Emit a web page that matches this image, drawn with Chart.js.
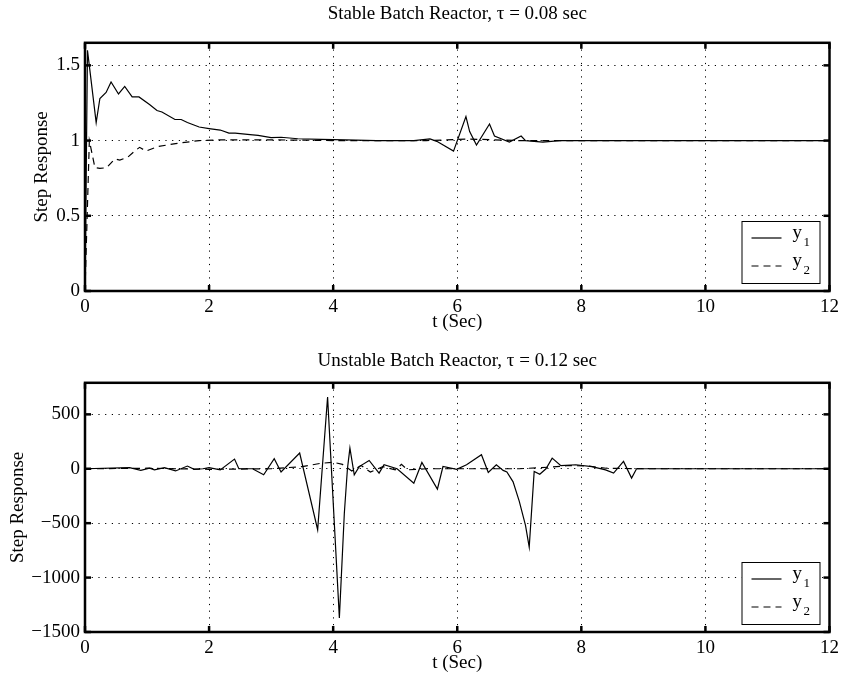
<!DOCTYPE html>
<html>
<head>
<meta charset="utf-8">
<script src="https://cdn.jsdelivr.net/npm/chart.js@4/dist/chart.umd.min.js"></script>
<style>
  body { margin: 0; background: #fff; }
  .box { position: absolute; left: 0; width: 844px; }
</style>
</head>
<body>
<div class="box" style="top:0;height:338px"><canvas id="topChart"></canvas></div>
<div class="box" style="top:338px;height:339px"><canvas id="botChart"></canvas></div>
<script>
const xTicks = [0, 2, 4, 6, 8, 10, 12];

// stable reactor, tau = 0.08 sec
const topYTicks = [0, 0.5, 1, 1.5];
const topT1 = [0, 0.04, 0.18, 0.24, 0.34, 0.42, 0.54, 0.64, 0.76, 0.87, 1.04, 1.16, 1.24, 1.45, 1.55, 1.65, 1.84, 2.0, 2.18, 2.32, 2.42, 2.66, 2.79, 3.0, 3.16, 3.43, 3.8, 4.2, 4.7, 5.3, 5.56, 5.67, 5.94, 6.14, 6.2, 6.31, 6.52, 6.6, 6.84, 7.03, 7.1, 7.38, 7.65, 12];
const topY1 = [0, 1.6, 1.12, 1.28, 1.32, 1.39, 1.31, 1.36, 1.29, 1.29, 1.24, 1.2, 1.19, 1.14, 1.14, 1.12, 1.09, 1.08, 1.07, 1.05, 1.05, 1.04, 1.035, 1.02, 1.022, 1.012, 1.008, 1.004, 1.0, 1.0, 1.011, 0.995, 0.93, 1.16, 1.06, 0.97, 1.11, 1.03, 0.99, 1.03, 1.0, 0.99, 1.0, 1.0];
const topT2 = [0, 0.07, 0.16, 0.24, 0.35, 0.48, 0.56, 0.69, 0.8, 0.88, 0.985, 1.17, 1.46, 1.84, 2.2, 2.8, 3.5, 4.0, 4.5, 5.5, 6.2, 6.6, 7.0, 12];
const topY2 = [0, 1.0, 0.82, 0.815, 0.82, 0.878, 0.87, 0.89, 0.93, 0.955, 0.93, 0.96, 0.98, 1.0, 1.005, 1.005, 1.003, 1.0, 1.0, 1.0, 1.01, 1.005, 1.0, 1.0];

// unstable reactor, tau = 0.12 sec
const botYTicks = [-1500, -1000, -500, 0, 500];
const botT1 = [0, 0.72, 0.9, 1.04, 1.12, 1.28, 1.46, 1.65, 1.76, 1.9, 2.0, 2.18, 2.41, 2.48, 2.7, 2.88, 3.05, 3.16, 3.46, 3.75, 3.91, 4.1, 4.18, 4.23, 4.27, 4.34, 4.42, 4.58, 4.74, 4.82, 5.03, 5.3, 5.43, 5.68, 5.77, 5.99, 6.15, 6.39, 6.5, 6.63, 6.74, 6.8, 6.9, 7.0, 7.1, 7.16, 7.24, 7.33, 7.43, 7.53, 7.67, 7.91, 8.17, 8.39, 8.52, 8.68, 8.81, 8.89, 12];
const botY1 = [0, 10, -15, 5, -10, 10, -20, 25, -5, 0, 10, -10, 89, 0, 0, -55, 92, -30, 145, -560, 660, -1370, -408, 0, 190, -55, 20, 76, -40, 37, 0, -132, 58, -187, 21, -5, 37, 129, -34, 37, -15, -30, -120, -300, -520, -720, -25, -50, 0, 98, 28, 37, 20, -10, -40, 68, -86, 0, 0];
const botT2 = [0, 1, 2, 3, 3.5, 3.8, 4.0, 4.15, 4.3, 4.45, 4.6, 4.8, 5.0, 5.1, 5.2, 5.5, 6, 7, 7.5, 7.8, 8.1, 8.4, 9, 12];
const botY2 = [0, 5, -5, 0, 20, 50, 60, 40, -20, 30, -30, 20, -10, 40, -10, 0, 0, 0, 15, 30, 25, 5, 0, 0];

const serif = "'Liberation Serif', 'DejaVu Serif', serif";

function pts(ts, ys) {
  return ts.map((t, i) => ({ x: t, y: ys[i] }));
}

function line(ctx, x1, y1, x2, y2) {
  ctx.beginPath();
  ctx.moveTo(x1, y1);
  ctx.lineTo(x2, y2);
  ctx.stroke();
}

// box round the plot, inward ticks and the legend in the lower right
const frame = {
  id: 'frame',
  afterDatasetsDraw(chart) {
    const { ctx, chartArea: a, scales: { x, y } } = chart;
    ctx.save();
    ctx.strokeStyle = '#000';
    ctx.setLineDash([]);
    ctx.lineWidth = 2.5;
    ctx.strokeRect(a.left, a.top, a.right - a.left, a.bottom - a.top);
    x.ticks.forEach(t => {
      const px = x.getPixelForValue(t.value);
      line(ctx, px, a.bottom, px, a.bottom - 6);
      line(ctx, px, a.top, px, a.top + 6);
    });
    y.ticks.forEach(t => {
      const py = y.getPixelForValue(t.value);
      line(ctx, a.left, py, a.left + 6, py);
      line(ctx, a.right, py, a.right - 6, py);
    });

    // legend
    const lx = a.right - 88, ly = a.bottom - 70;
    ctx.fillStyle = '#fff';
    ctx.fillRect(lx, ly, 78, 62);
    ctx.lineWidth = 1;
    ctx.strokeRect(lx + 0.5, ly + 0.5, 78, 62);
    chart.data.datasets.forEach((ds, i) => {
      const yy = ly + 17 + i * 28;
      ctx.setLineDash(ds.borderDash || []);
      ctx.lineWidth = 1.2;
      line(ctx, lx + 10, yy, lx + 40, yy);
      ctx.setLineDash([]);
      ctx.fillStyle = '#000';
      ctx.textBaseline = 'middle';
      ctx.font = '19px ' + serif;
      ctx.fillText(ds.label[0], lx + 51, yy - 5);
      ctx.font = '13px ' + serif;
      ctx.fillText(ds.label.slice(1), lx + 62, yy + 5);
    });
    ctx.restore();
  }
};

function makeChart(id, title, ts1, ys1, ts2, ys2, yMin, yMax, yTicks, lay) {
  return new Chart(document.getElementById(id), {
    type: 'line',
    data: {
      datasets: [
        { label: 'y1', data: pts(ts1, ys1), borderColor: '#000', borderWidth: 1.2, pointRadius: 0, tension: 0 },
        { label: 'y2', data: pts(ts2, ys2), borderColor: '#000', borderWidth: 1.2, borderDash: [7, 5], pointRadius: 0, tension: 0 }
      ]
    },
    options: {
      responsive: true,
      maintainAspectRatio: false,
      animation: false,
      layout: { padding: { left: 0, right: 7, top: 0, bottom: 0 } },
      plugins: {
        legend: { display: false },
        tooltip: { enabled: false },
        title: {
          display: true,
          text: title,
          fullSize: false,
          color: '#000',
          font: { family: serif, size: 19, weight: 'normal' },
          padding: { top: lay.titleTop, bottom: lay.titleBottom }
        }
      },
      scales: {
        x: {
          type: 'linear',
          min: 0,
          max: 12,
          afterBuildTicks: s => { s.ticks = xTicks.map(v => ({ value: v })); },
          afterFit: s => { s.height = lay.xHeight; },
          ticks: { color: '#000', padding: 5, font: { family: serif, size: 19 }, maxRotation: 0 },
          grid: { color: '#000', lineWidth: 1, drawTicks: false },
          border: { display: false, dash: [1.2, 5.5] },
          title: {
            display: true,
            text: 't (Sec)',
            color: '#000',
            font: { family: serif, size: 19 },
            padding: { top: 0, bottom: lay.xTitleBottom }
          }
        },
        y: {
          min: yMin,
          max: yMax,
          afterBuildTicks: s => { s.ticks = yTicks.map(v => ({ value: v })); },
          afterFit: s => { s.width = 85; },
          ticks: {
            color: '#000',
            padding: 5,
            font: { family: serif, size: 19 },
            callback: v => (v < 0 ? '\u2212' + Math.abs(v) : String(v))
          },
          grid: { color: '#000', lineWidth: 1, drawTicks: false },
          border: { display: false, dash: [1.2, 5.5] },
          title: {
            display: true,
            text: 'Step Response',
            color: '#000',
            font: { family: serif, size: 19 },
            padding: { top: lay.yTitleTop, bottom: 0 }
          }
        }
      }
    },
    plugins: [frame]
  });
}

makeChart('topChart', 'Stable Batch Reactor, \u03c4 = 0.08 sec', topT1, topY1, topT2, topY2, 0, 1.65, topYTicks,
  { titleTop: 3, titleBottom: 17, xHeight: 47, xTitleBottom: 5, yTitleTop: 31 });
makeChart('botChart', 'Unstable Batch Reactor, \u03c4 = 0.12 sec', botT1, botY1, botT2, botY2, -1500, 790, botYTicks,
  { titleTop: 12, titleBottom: 10, xHeight: 45, xTitleBottom: 3, yTitleTop: 7 });
</script>
</body>
</html>
